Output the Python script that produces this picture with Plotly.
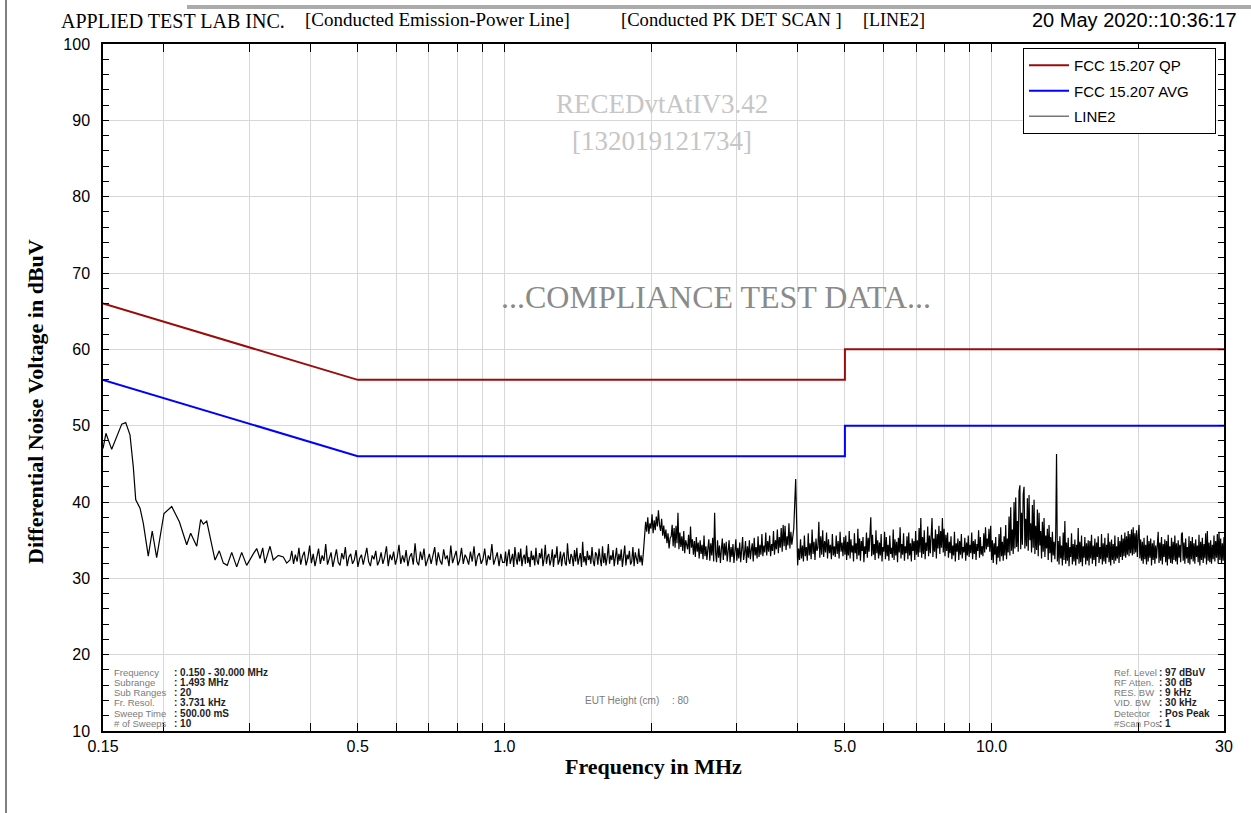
import numpy as np
import plotly.graph_objects as go

# ---------------- data ----------------
qp_freq = [0.15, 0.5, 5.0, 5.0, 30.0]
qp_level = [66, 56, 56, 60, 60]
avg_freq = [0.15, 0.5, 5.0, 5.0, 30.0]
avg_level = [56, 46, 46, 50, 50]

# low-frequency part of LINE2 (read point by point)
lf_freq = [0.1500, 0.1521, 0.1563, 0.1639, 0.1670, 0.1704, 0.1731, 0.1751, 0.1787, 0.1815,
           0.1858, 0.1893, 0.1933, 0.2001, 0.2076, 0.2152, 0.2228, 0.2270, 0.2336, 0.2380,
           0.2410, 0.2449, 0.2547, 0.2599, 0.2649, 0.2699, 0.2756, 0.2822, 0.2889, 0.2958,
           0.3052, 0.3102, 0.3150, 0.3191, 0.3225, 0.3303, 0.3354, 0.3435, 0.3517, 0.3574]
lf_vals = [47.0, 49.0, 46.9, 50.2, 50.4, 48.8, 44.6, 40.3, 39.2, 37.2,
           32.9, 36.2, 32.7, 38.5, 39.4, 37.4, 34.4, 35.9, 34.2, 37.7,
           37.1, 37.5, 32.4, 33.6, 32.0, 31.7, 33.4, 31.5, 33.4, 31.7,
           33.2, 33.9, 32.6, 34.0, 32.0, 34.2, 32.4, 33.0, 32.8, 32.0]

# scan sub-ranges: (start MHz, stop MHz) and readings in each
seg_b1_range = (0.363, 1.0)
seg_b1 = [32.4, 33.6, 31.9, 33.1, 32.2, 34.0, 31.8, 32.9, 33.5, 31.7,
          32.6, 34.3, 32.0, 33.2, 31.6, 32.8, 33.9, 31.9, 33.0, 32.3,
          34.5, 31.8, 32.7, 33.4, 31.5, 32.9, 33.8, 32.1, 31.7, 33.3,
          32.5, 34.1, 31.6, 32.8, 33.2, 31.9, 32.4, 33.7, 31.5, 32.6,
          33.1, 31.8, 32.9, 34.0, 32.2, 31.6, 33.0, 32.5, 33.6, 31.7,
          32.3, 33.4, 31.9, 32.8, 34.2, 31.6, 33.1, 32.4, 33.5, 31.8,
          32.7, 34.4, 31.9, 33.0, 32.1, 33.7, 31.6, 32.8, 33.3, 31.8,
          34.6, 32.2, 31.7, 33.5, 32.4, 33.9, 31.6, 32.6, 33.2, 31.9,
          32.9, 34.1, 31.7, 33.4, 32.3, 31.8, 33.8, 32.5, 33.0, 31.6,
          34.3, 32.0, 32.8, 33.6, 31.7, 32.4, 34.0, 31.9, 33.1, 32.6,
          31.8, 33.5, 32.2, 34.2, 31.6, 32.9, 33.3, 31.9, 32.5, 33.9,
          31.7, 33.0, 32.4, 34.5, 31.8, 32.7, 33.4, 31.6, 33.2, 32.1]
seg_b2_range = (1.0, 1.94)
seg_b2 = [32.1, 33.5, 31.6, 32.9, 33.8, 31.9, 32.4, 33.2, 31.5, 34.1,
          32.6, 31.8, 33.4, 32.2, 33.9, 31.6, 32.7, 33.1, 31.9, 34.3,
          32.0, 32.8, 31.5, 33.6, 32.4, 33.0, 31.7, 34.0, 32.3, 31.8,
          33.3, 32.6, 33.9, 31.6, 32.5, 34.4, 31.9, 32.9, 33.2, 31.7,
          32.4, 33.8, 31.5, 33.1, 32.7, 34.2, 31.8, 32.3, 33.5, 31.6,
          32.9, 33.4, 32.0, 31.7, 34.6, 32.5, 31.9, 33.2, 32.8, 31.6,
          33.7, 32.2, 34.0, 31.8, 32.6, 33.3, 31.5, 34.8, 32.1, 32.9,
          31.7, 33.6, 32.4, 33.0, 31.9, 34.1, 32.3, 31.6, 33.4, 33.1,
          31.8, 33.9, 32.5, 31.6, 34.2, 32.0, 33.3, 31.7, 32.8, 34.5,
          31.9, 33.0, 32.4, 33.7, 31.6, 32.6, 34.0, 31.8, 33.2, 32.3,
          33.8, 31.5, 32.9, 34.3, 31.7, 33.1, 32.5, 33.6, 31.8, 32.2,
          34.1, 31.6, 33.4, 32.7, 31.9, 33.9, 32.1, 33.0, 31.7, 33.5]
seg_c_range = (1.94, 2.2)
seg_c = [35.2, 37.4, 36.1, 38.0, 35.8, 37.2, 36.5, 38.4, 35.9, 37.6, 36.3, 38.1, 36.8, 38.9, 37.0,
         36.2, 37.8, 35.6, 36.9, 35.2, 36.4, 34.6, 35.9, 33.9, 35.3]
seg_d_range = (2.2, 5.0)
seg_d = [35.5, 37.0, 34.2, 36.6, 34.0, 36.9, 34.6, 38.6, 33.8, 36.0,
         34.1, 35.5, 33.6, 36.2, 33.3, 35.0, 34.4, 33.8, 35.7, 33.2,
         36.8, 34.0, 35.1, 33.1, 34.9, 32.8, 35.4, 33.5, 34.7, 32.6,
         35.0, 33.2, 34.4, 32.5, 35.6, 32.9, 34.2, 32.4, 33.9, 35.1,
         32.3, 34.6, 33.0, 35.3, 32.2, 38.6, 33.4, 32.1, 35.0, 32.7,
         34.3, 32.0, 33.8, 35.2, 32.4, 34.6, 33.0, 34.8, 32.2, 33.6,
         35.0, 32.1, 34.1, 32.8, 34.5, 32.0, 33.5, 35.1, 32.3, 34.0,
         32.6, 34.7, 32.1, 33.9, 35.4, 32.4, 33.3, 34.9, 32.0, 34.2,
         32.7, 35.0, 32.5, 33.7, 34.6, 32.2, 35.3, 33.0, 34.1, 32.6,
         35.5, 32.8, 34.4, 33.1, 35.8, 32.9, 34.3, 33.4, 36.0, 33.0,
         34.9, 33.5, 35.6, 32.9, 34.5, 33.6, 36.2, 33.1, 35.0, 33.8,
         36.4, 33.3, 35.4, 34.0, 36.6, 33.5, 37.0, 34.2, 36.9, 33.7,
         35.5, 34.3, 37.2, 33.9, 36.1, 34.4, 35.8, 36.5, 39.8, 43.0,
         37.2, 31.7, 33.9, 32.4, 35.1, 32.6, 34.3, 32.2, 35.6, 32.9,
         34.1, 32.3, 35.9, 33.0, 34.6, 32.5, 36.4, 33.2, 34.8, 32.4,
         35.2, 33.6, 34.0, 37.4, 32.7, 35.5, 33.1, 36.3, 32.8, 34.9,
         33.4, 36.0, 32.6, 35.1, 33.3, 34.4, 32.5, 35.8, 33.0, 34.2,
         32.8, 35.6, 33.2, 34.9, 32.6, 36.1, 33.5, 34.7, 32.9, 35.4]
seg_e_range = (5.0, 10.0)
seg_e = [33.1, 35.6, 32.4, 34.8, 33.0, 36.2, 32.6, 35.1, 33.4, 34.3,
         32.2, 35.9, 33.3, 34.6, 32.5, 36.5, 33.0, 35.2, 32.3, 34.9,
         33.6, 35.4, 32.1, 34.2, 33.2, 36.0, 32.7, 35.3, 33.5, 36.8,
         38.0, 32.9, 35.7, 33.1, 34.5, 32.4, 36.3, 33.3, 35.0, 32.6,
         34.7, 33.0, 35.8, 32.2, 34.1, 33.5, 36.1, 32.5, 35.4, 32.9,
         34.4, 32.3, 35.6, 33.2, 34.0, 32.7, 36.4, 32.4, 35.1, 33.0,
         34.8, 32.1, 35.3, 33.4, 36.7, 32.6, 34.5, 33.1, 35.9, 32.3,
         34.2, 33.3, 35.5, 32.5, 36.0, 33.0, 34.6, 32.2, 35.2, 33.6,
         34.9, 32.4, 36.2, 33.1, 35.0, 32.8, 36.6, 33.4, 37.9, 32.7,
         35.4, 33.2, 36.3, 32.5, 34.7, 33.6, 36.8, 32.9, 35.6, 33.3,
         36.1, 37.9, 32.8, 35.2, 33.5, 36.4, 32.6, 35.8, 33.9, 36.9,
         33.2, 36.2, 34.0, 37.9, 33.4, 36.5, 32.9, 35.7, 33.6, 36.0,
         32.7, 34.8, 33.3, 35.5, 32.5, 34.3, 33.0, 36.1, 32.2, 34.6,
         33.5, 35.2, 32.4, 34.9, 33.1, 35.8, 32.6, 34.1, 33.4, 35.3,
         32.3, 34.7, 33.0, 35.6, 32.8, 34.4, 33.3, 36.0, 32.5, 34.9,
         33.2, 35.1, 32.4, 34.5, 33.6, 36.3, 32.7, 35.4, 33.1, 34.2,
         32.9, 35.9, 33.4, 36.7, 33.8, 35.2, 34.1, 36.5, 33.5, 36.9]
seg_f_range = (10.0, 30.0)
seg_f = [32.4, 35.0, 32.0, 34.6, 33.1, 35.4, 31.8, 34.2, 32.7, 35.8,
         32.2, 36.7, 32.9, 34.8, 32.3, 35.5, 33.0, 37.0, 32.5, 35.2,
         33.4, 38.1, 33.0, 39.3, 33.6, 36.4, 33.2, 40.0, 33.9, 40.6,
         34.1, 37.5, 33.5, 41.4, 42.2, 33.8, 38.6, 34.4, 41.0, 42.0,
         33.9, 37.8, 34.2, 40.5, 33.6, 40.9, 35.0, 37.2, 33.4, 39.6,
         34.0, 40.3, 33.2, 36.9, 33.7, 39.0, 32.9, 38.6, 34.3, 36.2,
         32.6, 37.4, 33.5, 37.9, 32.8, 35.6, 33.9, 36.5, 32.4, 37.0,
         33.3, 35.4, 32.1, 36.1, 33.0, 34.8, 32.5, 35.7, 46.3, 32.2,
         34.9, 31.8, 35.5, 32.6, 34.3, 31.7, 36.0, 32.4, 37.5, 31.9,
         34.7, 32.3, 35.3, 31.6, 34.1, 32.8, 35.9, 31.8, 34.5, 32.2,
         35.1, 31.7, 34.4, 32.5, 36.6, 31.9, 34.8, 32.1, 35.6, 31.6,
         34.2, 32.7, 35.4, 31.8, 34.6, 32.3, 35.0, 31.7, 34.9, 32.6,
         35.7, 31.9, 34.3, 32.4, 35.2, 31.6, 34.7, 32.8, 35.5, 32.0,
         34.1, 32.5, 35.8, 31.8, 34.6, 32.2, 35.3, 31.9, 34.4, 32.7,
         35.9, 32.1, 34.8, 31.7, 35.1, 32.4, 34.5, 31.9, 35.6, 32.3,
         34.2, 32.6, 35.4, 32.0, 34.9, 32.8, 35.7, 32.4, 35.2, 32.9,
         36.0, 32.7, 35.5, 33.1, 36.2, 32.9, 35.8, 33.3, 36.4, 33.0,
         36.7, 33.2, 35.9, 33.4, 36.3, 32.8, 35.6, 37.0, 32.6, 35.1,
         32.3, 34.8, 31.9, 35.3, 32.5, 34.4, 31.8, 35.6, 32.2, 34.9,
         32.7, 35.2, 31.7, 34.6, 32.4, 35.0, 31.9, 34.3, 32.6, 35.5,
         36.1, 32.0, 34.7, 32.3, 35.4, 31.8, 34.5, 32.8, 35.1, 32.1,
         34.9, 31.7, 35.7, 32.5, 34.2, 32.0, 35.3, 31.9, 34.8, 32.4,
         35.6, 32.2, 34.6, 31.8, 35.0, 32.7, 34.4, 32.1, 35.8, 36.0,
         32.3, 34.7, 31.9, 35.2, 32.6, 34.1, 32.0, 35.5, 31.8, 34.9,
         32.5, 35.4, 32.2, 34.6, 31.9, 35.1, 32.8, 34.3, 32.1, 35.7,
         31.7, 34.8, 32.4, 35.3, 32.0, 34.5, 32.6, 35.9, 31.8, 36.2,
         32.3, 34.7, 32.1, 35.0, 31.9, 34.4, 32.5, 35.6, 32.2, 34.9,
         32.7, 35.8, 31.9, 36.1, 32.4, 35.2, 32.0, 34.6, 32.3, 35.4]

x_tick_vals = [0.15, 0.2, 0.3, 0.4, 0.5, 0.6, 0.7, 0.8, 0.9, 1, 2, 3, 4, 5, 6, 7, 8, 9, 10, 20, 30]
x_tick_text = ["0.15", "", "", "", "0.5", "", "", "", "", "1.0", "", "", "", "5.0", "", "", "", "",
               "10.0", "", "30"]
y_tick_vals = [10, 20, 30, 40, 50, 60, 70, 80, 90, 100]

left_labels = ["Frequency", "Subrange", "Sub Ranges", "Fr. Resol.", "Sweep Time", "# of Sweeps"]
left_values = [": 0.150 - 30.000 MHz", ": 1.493 MHz", ": 20", ": 3.731 kHz", ": 500.00 mS", ": 10"]
right_labels = ["Ref. Level", "RF Atten.", "RES. BW", "VID. BW", "Detector", "#Scan Pos"]
right_values = [": 97 dBuV", ": 30 dB", ": 9 kHz", ": 30 kHz", ": Pos Peak", ": 1"]

# ---------------- build trace ----------------
segments = [(seg_b1_range, seg_b1), (seg_b2_range, seg_b2), (seg_c_range, seg_c),
            (seg_d_range, seg_d), (seg_e_range, seg_e), (seg_f_range, seg_f)]
line2_freq = list(lf_freq)
line2_vals = list(lf_vals)
for k, ((a, b), v) in enumerate(segments):
    last = k == len(segments) - 1
    line2_freq += list(np.geomspace(a, b, len(v), endpoint=last))
    line2_vals += list(v)

# ---------------- figure ----------------
W, H = 1251, 813
L, R, T, B = 103, 27, 44, 82
PW, PH = W - L - R, H - T - B


def px(x):
    return (x - L) / PW


def py(y):
    return (H - B - y) / PH


SERIF = "Liberation Serif"
SANS = "Liberation Sans, Arial"

fig = go.Figure()
fig.add_trace(go.Scatter(x=line2_freq, y=line2_vals, mode="lines",
                         line=dict(color="#000000", width=1.2), showlegend=False,
                         hoverinfo="skip"))
fig.add_trace(go.Scatter(x=qp_freq, y=qp_level, mode="lines", name="FCC 15.207 QP",
                         line=dict(color="#9a0c0c", width=2), legendgroup="a"))
fig.add_trace(go.Scatter(x=avg_freq, y=avg_level, mode="lines",
                         name="FCC 15.207 AVG&nbsp;&nbsp;&nbsp;&nbsp;&nbsp;",
                         line=dict(color="#0000ff", width=2), legendgroup="b"))
fig.add_trace(go.Scatter(x=[None], y=[None], mode="lines", name="LINE2",
                         line=dict(color="#777777", width=1.5), legendgroup="c"))

grid = "#d5d8d5"
fig.update_xaxes(type="log", range=[np.log10(0.15), np.log10(30)],
                 tickmode="array", tickvals=x_tick_vals, ticktext=x_tick_text,
                 ticks="inside", ticklen=8, tickcolor="black", tickwidth=1,
                 showgrid=True, gridcolor=grid, gridwidth=1,
                 showline=True, linecolor="black", linewidth=1.5, mirror="ticks",
                 zeroline=False, tickfont=dict(family=SANS, size=16, color="black"))
fig.update_yaxes(range=[10, 100], tickmode="array", tickvals=y_tick_vals,
                 ticks="inside", ticklen=6, tickcolor="black",
                 minor=dict(dtick=2, tick0=10, ticks="inside", ticklen=6, tickcolor="black", showgrid=False),
                 showgrid=True, gridcolor=grid, gridwidth=1,
                 showline=True, linecolor="black", linewidth=1.5, mirror="ticks",
                 zeroline=False, ticklabelstandoff=8,
                 tickfont=dict(family=SANS, size=16, color="black"))

ann = []


def text(x, y, s, size, color="black", family=SERIF, anchor="left", angle=0):
    ann.append(dict(x=px(x), y=py(y), xref="paper", yref="paper", text=s, showarrow=False,
                    xanchor=anchor, yanchor="middle", textangle=angle,
                    font=dict(family=family, size=size, color=color)))


# header
text(59, 21, "APPLIED TEST LAB INC.", 20)
text(303, 20, "[Conducted Emission-Power Line]", 19)
text(619, 20, "[Conducted PK DET SCAN ]", 18.6)
text(861, 20, "[LINE2]", 18)
text(1239, 20, "20 May 2020::10:36:17", 20, family=SANS, anchor="right")

# watermarks
text(662, 104, "RECEDvtAtIV3.42", 27, color="#c6c6c6", anchor="center")
text(662, 141, "[132019121734]", 27, color="#c6c6c6", anchor="center")
text(716, 297, "...COMPLIANCE TEST DATA...", 32, color="#8a8a8a", anchor="center")

# axis titles
text(35, 402, "<b>Differential Noise Voltage in dBuV</b>", 22, anchor="center", angle=-90)
text(653, 767, "<b>Frequency in MHz</b>", 22, anchor="center")

# info blocks
for i in range(6):
    yy = 672 + 10.3 * i
    text(112, yy, left_labels[i], 9.5, color="#7a7a7a", family=SANS)
    text(172, yy, "<b>" + left_values[i] + "</b>", 10, color="#222222", family=SANS)
    text(1112, yy, right_labels[i], 9.5, color="#7a7a7a", family=SANS)
    text(1157, yy, "<b>" + right_values[i] + "</b>", 10, color="#222222", family=SANS)
text(583, 700, "EUT Height (cm)", 10, color="#7a7a7a", family=SANS)
text(670, 700, ": 80", 10, color="#7a7a7a", family=SANS)

shapes = [
    dict(type="line", xref="paper", yref="paper", x0=px(187), x1=px(1251), y0=py(7), y1=py(7),
         line=dict(color="#ababab", width=4)),
    dict(type="line", xref="paper", yref="paper", x0=px(6), x1=px(6), y0=py(0), y1=py(813),
         line=dict(color="black", width=1)),
]

fig.update_layout(
    width=W, height=H, margin=dict(l=L, r=R, t=T, b=B, pad=0),
    paper_bgcolor="white", plot_bgcolor="white",
    annotations=ann, shapes=shapes, hovermode=False,
    legend=dict(x=px(1023), y=py(48), xanchor="left", yanchor="top",
                bgcolor="white", bordercolor="black", borderwidth=1,
                font=dict(family=SANS, size=15, color="black"), itemwidth=40,
                tracegroupgap=3, traceorder="grouped"),
)

fig.write_html("out.html", config={"displayModeBar": False},
               post_script="document.body.style.margin='0px';")
